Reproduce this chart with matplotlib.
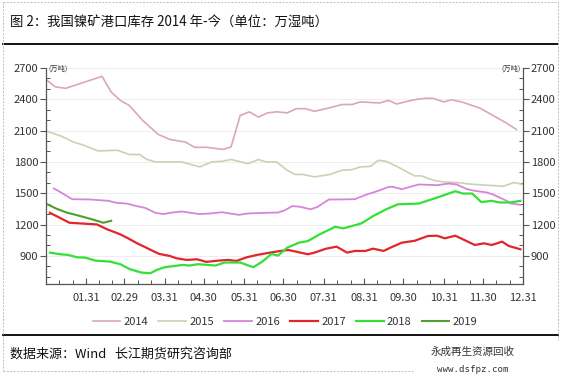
import matplotlib
matplotlib.use("Agg")
import matplotlib.pyplot as plt
from matplotlib.lines import Line2D
from matplotlib.ticker import FixedLocator, MultipleLocator

plt.rcParams['font.family'] = ['Noto Sans CJK SC', 'DejaVu Sans']

# ---------------- data (day of year, value in 万吨) ----------------
days_2014 = [1, 7, 15, 43, 50, 57, 64, 74, 86, 95, 107, 114, 123, 136, 142, 149, 156, 163, 170, 177,
             185, 192, 199, 206, 218, 227, 235, 241, 256, 263, 269, 282, 291, 297, 305, 311, 319, 333,
             343, 353, 361]
vals_2014 = [2580, 2520, 2505, 2620, 2470, 2390, 2340, 2200, 2065, 2015, 1990, 1940, 1940, 1920, 1945,
             2245, 2280, 2230, 2270, 2280, 2270, 2310, 2310, 2285, 2320, 2350, 2350, 2375, 2365, 2390,
             2355, 2395, 2410, 2410, 2375, 2395, 2375, 2315, 2245, 2175, 2110]

days_2015 = [1, 12, 21, 29, 40, 55, 64, 72, 77, 84, 104, 118, 127, 135, 142, 155, 163, 169, 177, 185,
             191, 197, 206, 218, 227, 235, 241, 249, 255, 261, 270, 277, 283, 288, 297, 305, 318, 323,
             338, 351, 359, 366]
vals_2015 = [2093, 2046, 1991, 1960, 1905, 1912, 1871, 1871, 1826, 1800, 1800, 1752, 1800, 1806, 1823,
             1784, 1823, 1800, 1800, 1720, 1680, 1680, 1657, 1680, 1720, 1726, 1752, 1758, 1816, 1806,
             1752, 1704, 1666, 1666, 1625, 1608, 1600, 1590, 1577, 1567, 1603, 1584]

days_2016 = [6, 12, 20, 34, 48, 54, 62, 70, 76, 84, 90, 95, 104, 118, 126, 135, 148, 155, 167, 178,
             183, 189, 195, 203, 208, 217, 224, 237, 246, 254, 263, 266, 273, 286, 300, 309, 315, 323,
             329, 338, 343, 354, 357, 364]
vals_2016 = [1546, 1504, 1443, 1440, 1427, 1408, 1401, 1375, 1360, 1312, 1300, 1312, 1325, 1300, 1306,
             1318, 1293, 1306, 1312, 1315, 1335, 1377, 1370, 1346, 1367, 1440, 1440, 1443, 1488, 1519,
             1561, 1561, 1539, 1584, 1577, 1593, 1584, 1539, 1523, 1508, 1488, 1424, 1401, 1389]

days_2017 = [3, 8, 18, 26, 39, 47, 57, 63, 70, 77, 82, 87, 95, 100, 108, 116, 123, 132, 140, 146,
             154, 162, 172, 180, 186, 192, 201, 206, 215, 223, 231, 237, 245, 251, 259, 266, 273, 283,
             293, 300, 306, 314, 321, 329, 336, 342, 350, 355, 364]
vals_2017 = [1312, 1281, 1217, 1211, 1201, 1154, 1106, 1068, 1020, 978, 947, 918, 899, 877, 861, 867,
             842, 854, 861, 851, 886, 909, 931, 947, 956, 940, 915, 931, 969, 988, 931, 947, 947, 969,
             947, 988, 1026, 1045, 1090, 1093, 1068, 1093, 1052, 1004, 1020, 1004, 1036, 995, 963]

days_2018 = [3, 11, 17, 24, 30, 38, 49, 57, 64, 73, 80, 85, 91, 105, 110, 117, 130, 137, 149, 154,
             159, 166, 173, 178, 185, 194, 201, 210, 222, 228, 242, 251, 261, 270, 286, 300, 314, 320,
             327, 334, 342, 348, 356, 364]
vals_2018 = [931, 915, 909, 886, 883, 854, 845, 820, 774, 740, 733, 765, 791, 813, 807, 820, 807, 836,
             836, 813, 791, 845, 918, 902, 978, 1026, 1042, 1106, 1179, 1163, 1211, 1281, 1346, 1394,
             1401, 1458, 1519, 1497, 1497, 1415, 1427, 1411, 1411, 1427]

days_2019 = [1, 8, 16, 24, 34, 44, 50]
vals_2019 = [1394, 1352, 1314, 1289, 1255, 1217, 1236]

years = ['2014', '2015', '2016', '2017', '2018', '2019']
colors = ['#D9A9B2', '#CBD1B4', '#D884DC', '#E0262C', '#33E033', '#4F9E30']
widths = [1.2, 1.2, 1.3, 1.6, 1.6, 1.5]
series = [(days_2014, vals_2014), (days_2015, vals_2015), (days_2016, vals_2016),
          (days_2017, vals_2017), (days_2018, vals_2018), (days_2019, vals_2019)]

month_end_days = [31, 60, 91, 121, 152, 182, 213, 244, 274, 305, 335, 366]
month_end_labels = ['01.31', '02.29', '03.31', '04.30', '05.31', '06.30',
                    '07.31', '08.31', '09.30', '10.31', '11.30', '12.31']
y_major = [900, 1200, 1500, 1800, 2100, 2400, 2700]

# ---------------- figure ----------------
W, H = 564, 385
fig = plt.figure(figsize=(W / 100, H / 100), dpi=100)
fig.patch.set_facecolor('white')

def fx(x):
    return x / W

def fy(y):
    return 1 - y / H

ax = fig.add_axes([fx(46), fy(283.5), fx(523) - fx(46), fy(68) - fy(283.5)])
for (d, v), c, lw, lab in zip(series, colors, widths, years):
    ax.plot(d, v, color=c, lw=lw, label=lab, solid_joinstyle='round')

ax.set_xlim(0, 366)
ax.set_ylim(635, 2700)
ax.set_yticks(y_major)
ax.yaxis.set_minor_locator(MultipleLocator(100))
ax.set_xticks(month_end_days)
ax.set_xticklabels(month_end_labels)
minor_x = []
prev = 0
for m in month_end_days:
    step = (m - prev) / 3
    minor_x += [prev + step, prev + 2 * step]
    prev = m
ax.xaxis.set_minor_locator(FixedLocator(minor_x))

for y in y_major:
    ax.axhline(y, color='#EBEBEB', lw=0.6, zorder=0)

axc = '#555555'
for s in ['left', 'right', 'bottom']:
    ax.spines[s].set_color(axc)
    ax.spines[s].set_linewidth(0.9)
ax.spines['top'].set_visible(False)

ax.tick_params(axis='y', which='major', direction='out', length=4, width=0.8, color=axc,
               labelsize=8, labelcolor='#333333', pad=1.5, left=True, right=True,
               labelleft=True, labelright=True)
ax.tick_params(axis='y', which='minor', direction='in', length=3, width=0.7, color=axc,
               left=True, right=True)
ax.tick_params(axis='x', which='major', direction='in', length=4, width=0.8, color=axc,
               labelsize=8, labelcolor='#333333', pad=7)
ax.tick_params(axis='x', which='minor', direction='in', length=3, width=0.7, color=axc)

ax.text(0.005, 0.997, '(万吨)', transform=ax.transAxes, fontsize=5.2, color='#333333',
        ha='left', va='center')
ax.text(0.995, 0.997, '(万吨)', transform=ax.transAxes, fontsize=5.2, color='#333333',
        ha='right', va='center')

handles = [Line2D([0], [0], color=c, lw=lw) for c, lw in zip(colors, widths)]
fig.legend(handles, years, loc='center', bbox_to_anchor=(fx(285), fy(322)), ncol=6,
           frameon=False, fontsize=8, handlelength=2.5, handletextpad=0.3,
           columnspacing=0.9, labelcolor='#333333')

# ---------------- decorations ----------------
fig.text(fx(10), fy(23), '图 2：我国镍矿港口库存 2014 年-今（单位：万湿吨）', fontsize=9.6,
         ha='left', va='center', color='#111111')
fig.text(fx(10), fy(354), '数据来源：Wind   长江期货研究咨询部', fontsize=9.4,
         ha='left', va='center', color='#111111')

fig.add_artist(Line2D([fx(3), fx(558)], [fy(44), fy(44)], color='black', lw=1.3))
fig.add_artist(Line2D([fx(3), fx(558)], [fy(335), fy(335)], color='black', lw=1.3))

dash = dict(color='#BDBDBD', lw=0.7, linestyle=(0, (2, 1.5)))
fig.add_artist(Line2D([fx(3), fx(558)], [fy(2), fy(2)], **dash))
fig.add_artist(Line2D([fx(3), fx(3)], [fy(2), fy(371)], **dash))
fig.add_artist(Line2D([fx(558), fx(558)], [fy(2), fy(340)], **dash))
fig.add_artist(Line2D([fx(3), fx(413)], [fy(371), fy(371)], **dash))

fig.text(fx(473), fy(352), '永成再生资源回收', fontsize=7.6, ha='center', va='center',
         color='#333333')
fig.text(fx(473), fy(369), 'www.dsfpz.com', fontsize=6.6, ha='center', va='center',
         color='#333333', family='DejaVu Sans Mono')

fig.savefig('out.png', dpi=100, facecolor='white')
